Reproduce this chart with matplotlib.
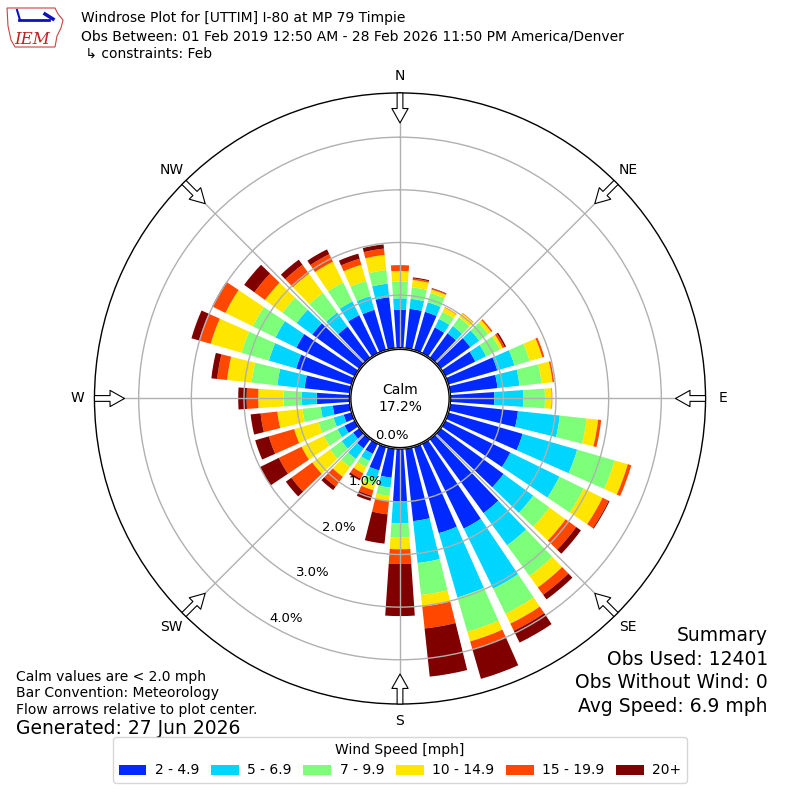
import numpy as np
import matplotlib
matplotlib.use("Agg")
import matplotlib.pyplot as plt
from matplotlib.patches import Patch, Polygon

# direction bins, deg (meteorological, wind from)
directions = np.arange(0, 360, 10)
compass = ["N", "NE", "E", "SE", "S", "SW", "W", "NW"]
speed_labels = ["2 - 4.9", "5 - 6.9", "7 - 9.9", "10 - 14.9", "15 - 19.9", "20+"]

# frequency [%] per direction bin, one list per speed bin
spd_2_5 = [0.72, 0.75, 0.75, 0.54, 0.57, 0.69, 0.63, 0.96, 0.90, 0.83,
           1.29, 1.46, 1.37, 1.47, 1.73, 1.79, 1.70, 1.38, 1.00, 0.55,
           0.46, 0.21, 0.21, 0.14, 0.21, 0.15, 0.32, 0.62, 0.86, 1.09,
           1.23, 1.10, 0.73, 0.80, 0.79, 0.97]
spd_5_7 = [0.22, 0.19, 0.19, 0.18, 0.17, 0.21, 0.23, 0.34, 0.42, 0.55,
           0.80, 1.08, 1.04, 0.70, 0.76, 1.27, 1.27, 0.80, 0.41, 0.19,
           0.17, 0.15, 0.25, 0.27, 0.15, 0.20, 0.23, 0.28, 0.52, 0.54,
           0.44, 0.37, 0.33, 0.29, 0.27, 0.26]
spd_7_10 = [0.32, 0.22, 0.18, 0.15, 0.20, 0.21, 0.29, 0.30, 0.42, 0.41,
            0.51, 0.74, 0.51, 0.38, 0.72, 0.53, 0.68, 0.61, 0.27, 0.16,
            0.11, 0.13, 0.19, 0.27, 0.29, 0.30, 0.35, 0.35, 0.49, 0.54,
            0.48, 0.33, 0.46, 0.40, 0.30, 0.26]
spd_10_15 = [0.20, 0.14, 0.07, 0.09, 0.10, 0.07, 0.06, 0.25, 0.21, 0.13,
             0.22, 0.26, 0.40, 0.38, 0.27, 0.21, 0.19, 0.22, 0.22, 0.10,
             0.11, 0.13, 0.23, 0.42, 0.47, 0.48, 0.48, 0.48, 0.47, 0.61,
             0.58, 0.41, 0.45, 0.44, 0.32, 0.29]
spd_15_20 = [0.11, 0.03, 0.02, 0.01, 0.01, 0.03, 0.04, 0.04, 0.03, 0.01,
             0.06, 0.07, 0.13, 0.25, 0.17, 0.15, 0.15, 0.42, 0.28, 0.25,
             0.11, 0.11, 0.23, 0.49, 0.48, 0.50, 0.32, 0.22, 0.19, 0.23,
             0.26, 0.25, 0.21, 0.16, 0.12, 0.12]
spd_20 = [0.00, 0.02, 0.01, 0.00, 0.00, 0.00, 0.03, 0.00, 0.00, 0.00,
          0.00, 0.00, 0.02, 0.11, 0.11, 0.25, 0.59, 0.92, 0.99, 0.56,
          0.10, 0.04, 0.08, 0.13, 0.40, 0.27, 0.19, 0.16, 0.11, 0.15,
          0.02, 0.24, 0.12, 0.10, 0.10, 0.08]
calm_pct = 17.2

rings = [0, 1, 2, 3, 4]
rmax = 4.84
rorigin = -0.963

series = [spd_2_5, spd_5_7, spd_7_10, spd_10_15, spd_15_20, spd_20]
colors = plt.cm.jet(np.arange(1, 7) / 6.0)

fig = plt.figure(figsize=(8, 8), dpi=100)
ax = fig.add_axes([0.5 - 0.3819, 0.5019 - 0.3819, 0.7638, 0.7638],
                  projection="polar")
ax.set_theta_zero_location("N")
ax.set_theta_direction(-1)

theta = np.radians(directions)
bottom = np.zeros(len(directions))
for vals, c in zip(series, colors):
    vals = np.array(vals)
    ax.bar(theta, vals, width=np.radians(7.8), bottom=bottom, color=c,
           edgecolor="none", zorder=1)
    bottom = bottom + vals

ax.set_rlim(0, rmax)
ax.set_rorigin(rorigin)
ax.set_yticks(rings[1:])
ax.set_yticklabels([])
ax.set_xticks(np.radians(np.arange(0, 360, 45)))
ax.set_xticklabels([])
ax.grid(True, color="#b0b0b0", lw=1.0)
ax.spines["polar"].set_linewidth(1.0)

# calm circle
tt = np.linspace(0, 2 * np.pi, 200)
ax.fill(tt, np.full_like(tt, -0.03), facecolor="white", edgecolor="black",
        lw=1.0, zorder=5, clip_on=False)

# ring labels
for r in rings:
    ax.text(np.radians(210), r, "%.1f%%" % r, ha="left", va="bottom",
            fontsize=9.5, zorder=6, clip_on=False)

# compass labels and flow arrows
for i, lab in enumerate(compass):
    th = np.radians(i * 45)
    ax.text(th, 5.17, lab, ha="center", va="center", fontsize=10,
            clip_on=False)
    ax.annotate("", xy=(th, rmax - 0.57), xytext=(th, rmax),
                arrowprops=dict(arrowstyle="simple,head_length=0.8,head_width=0.9,tail_width=0.32",
                                fc="white", ec="black", lw=0.8,
                                shrinkA=0, shrinkB=0, mutation_scale=13),
                annotation_clip=False, zorder=7)

fig.text(0.5, 0.5019, "Calm\n%.1f%%" % calm_pct, ha="center", va="center",
         fontsize=10, multialignment="center", zorder=8)

# header
fig.text(0.101, 0.9775, "Windrose Plot for [UTTIM] I-80 at MP 79 Timpie",
         fontsize=10, va="center")
fig.text(0.101, 0.954, "Obs Between: 01 Feb 2019 12:50 AM - 28 Feb 2026 "
         "11:50 PM America/Denver", fontsize=10, va="center")
fig.text(0.101, 0.9325, " \u21b3 constraints: Feb", fontsize=10, va="center")

# crude IEM logo
lax = fig.add_axes([5 / 800, 1 - 50 / 800, 60 / 800, 46 / 800])
lax.set_xlim(0, 60)
lax.set_ylim(0, 46)
lax.axis("off")
lax.add_patch(Polygon([(2, 42), (50, 42), (53, 36), (58, 30), (56, 22),
                       (52, 14), (50, 3), (10, 3), (6, 10), (3, 24)],
                      closed=True, fill=False, ec="#d04040", lw=0.8))
lax.plot([14, 44], [30, 30], color="#1010c0", lw=2)
lax.plot([12, 15], [40, 30], color="#1010c0", lw=1.5)
lax.plot([40, 48], [36, 31], color="#1010c0", lw=2.5)
lax.text(27, 11, "IEM", color="#c02020", fontsize=12, style="italic",
         family="serif", ha="center", va="center")

# notes
fig.text(0.02, 0.154, "Calm values are < 2.0 mph", fontsize=10, va="center")
fig.text(0.02, 0.134, "Bar Convention: Meteorology", fontsize=10, va="center")
fig.text(0.02, 0.1125, "Flow arrows relative to plot center.", fontsize=10,
         va="center")
fig.text(0.02, 0.089, "Generated: 27 Jun 2026", fontsize=13.5, va="center")

fig.text(0.96, 0.206, "Summary", fontsize=13.5, ha="right", va="center")
fig.text(0.96, 0.176, "Obs Used: 12401", fontsize=13.5, ha="right", va="center")
fig.text(0.96, 0.1475, "Obs Without Wind: 0", fontsize=13.5, ha="right",
         va="center")
fig.text(0.96, 0.1175, "Avg Speed: 6.9 mph", fontsize=13.5, ha="right",
         va="center")

handles = [Patch(facecolor=c) for c in colors]
fig.legend(handles, speed_labels, loc="lower center",
           bbox_to_anchor=(0.5, 0.0125), ncol=6, title="Wind Speed [mph]",
           fontsize=10, title_fontsize=10, columnspacing=0.85,
           handletextpad=0.6, edgecolor="#cccccc")

fig.savefig("out.png", dpi=100)
